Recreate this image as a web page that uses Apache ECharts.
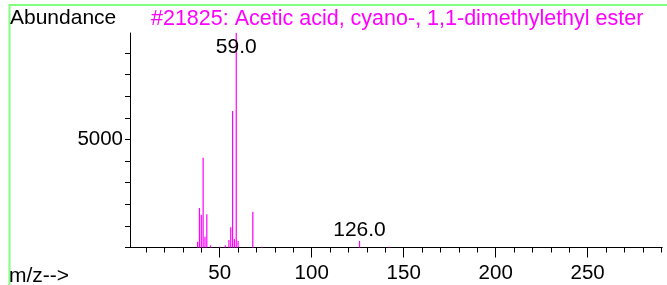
<!DOCTYPE html>
<html>
<head>
<meta charset="utf-8">
<script src="https://cdn.jsdelivr.net/npm/echarts@6/dist/echarts.min.js"></script>
<style>html,body{margin:0;padding:0;background:#fff}#c{width:667px;height:285px}</style>
</head>
<body>
<div id="c"></div>
<script>
// ---- data ----
const titleText = '#21825: Acetic acid, cyano-, 1,1-dimethylethyl ester';
const mz = [38, 39, 40, 41, 42, 43, 45, 50, 53, 55, 56, 57, 58, 59, 60, 68, 73, 126, 142];
const abundance = [270, 1830, 1505, 4160, 500, 1540, 100, 30, 100, 350, 935, 6320, 390, 9930, 300, 1660, 30, 300, 30];
const peakLabels = {59: '59.0', 126: '126.0'};
const xMajorTicks = [50, 100, 150, 200, 250];
const xMinorTicks = [10,20,30,40,50,60,70,80,90,100,110,120,130,140,150,160,170,180,190,200,210,220,230,240,250,260,270,280,290];
const yTicks = [0,1000,2000,3000,4000,5000,6000,7000,8000,9000];
const yLabels = [5000];

const FONT = '"Liberation Sans", Arial, sans-serif';
const chart = echarts.init(document.getElementById('c'), null, {renderer: 'canvas'});

const seriesData = mz.map((m, i) => {
  const item = {value: [m, abundance[i]]};
  if (peakLabels[m]) {
    const isTop = m === 59;
    item.label = {
      show: true,
      formatter: peakLabels[m],
      position: isTop ? 'insideTop' : 'top',
      distance: isTop ? 4 : 0,
      color: '#000',
      fontSize: 21,
      fontFamily: FONT
    };
  }
  return item;
});

const xCommon = {
  type: 'value', min: 1.25, max: 290.4, position: 'bottom',
  splitLine: {show: false},
  axisLine: {show: true, onZero: false, lineStyle: {color: '#000', width: 1}}
};

chart.setOption({
  animation: false,
  backgroundColor: '#fff',
  grid: {left: 130, right: 5, top: 33, bottom: 37.5, containLabel: false},
  xAxis: [
    Object.assign({}, xCommon, {
      axisTick: {show: true, length: 5, customValues: xMinorTicks, lineStyle: {color: '#000'}},
      axisLabel: {show: false}
    }),
    Object.assign({}, xCommon, {
      axisTick: {show: true, length: 10, customValues: xMajorTicks, lineStyle: {color: '#000'}},
      axisLabel: {show: true, customValues: xMajorTicks, formatter: v => String(v), color: '#000', fontSize: 20.5, fontFamily: FONT, margin: 15}
    })
  ],
  yAxis: {
    type: 'value', min: 0, max: 9930,
    splitLine: {show: false},
    axisLine: {show: true, lineStyle: {color: '#000', width: 1}},
    axisTick: {show: true, length: 5, customValues: yTicks, lineStyle: {color: '#000'}},
    axisLabel: {show: true, customValues: yLabels, formatter: v => String(v), color: '#000', fontSize: 20.5, fontFamily: FONT, margin: 7}
  },
  series: [{
    type: 'bar',
    xAxisIndex: 0,
    barWidth: 1.2,
    itemStyle: {color: '#ff00ff'},
    data: seriesData
  }],
  graphic: [
    {type: 'line', shape: {x1: 9, y1: 5, x2: 667, y2: 5}, style: {stroke: '#80ff80', lineWidth: 2}},
    {type: 'line', shape: {x1: 9.5, y1: 4, x2: 9.5, y2: 285}, style: {stroke: '#80ff80', lineWidth: 2}},
    {type: 'text', left: 10, top: 8, style: {text: 'Abundance', fill: '#000', font: '21px ' + FONT}},
    {type: 'text', left: 151, top: 8, style: {text: titleText, fill: '#ff00ff', font: '21.5px ' + FONT}},
    {type: 'text', left: 9, top: 266, style: {text: 'm/z-->', fill: '#000', font: '21px ' + FONT}}
  ]
});
</script>
</body>
</html>
